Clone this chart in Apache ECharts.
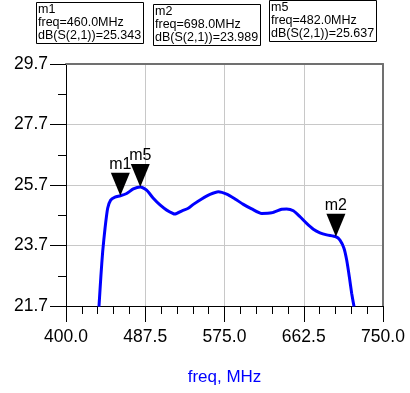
<!DOCTYPE html>
<html>
<head>
<meta charset="utf-8">
<script src="https://cdn.jsdelivr.net/npm/echarts@6/dist/echarts.min.js"></script>
<style>
    html, body {margin: 0; padding: 0; background: #fff;}
    #main {width: 410px; height: 393px;}
</style>
</head>
<body>
<div id="main"></div>
<script>
// freq (MHz) / dB(S(2,1))
let freqs = [436.4, 438.6, 440.5, 443.1, 446, 449.3, 454.1, 460, 467, 474.3, 482, 489, 496.4, 503.8, 511.2, 520.3, 527.7,
    535, 540.6, 549.8, 559, 568.2, 577.4, 586.6, 595.8, 605, 616, 627.1, 638.1, 643.6, 651, 658.4, 665.7, 673.1,
    680.4, 687.8, 698, 702.5, 706.9, 709.9, 712.8, 715.4, 718];
let gains = [21.68, 22.72, 23.5, 24.27, 24.93, 25.2, 25.3, 25.343, 25.42, 25.57, 25.637, 25.53, 25.26, 25.04, 24.87, 24.74, 24.84,
    24.93, 25.06, 25.24, 25.39, 25.48, 25.4, 25.24, 25.06, 24.91, 24.76, 24.78, 24.9, 24.91, 24.85, 24.65, 24.43, 24.24,
    24.12, 24.05, 23.989, 23.88, 23.61, 23.22, 22.67, 22.12, 21.68];

// markers
let markerNames = ['m1', 'm2', 'm5'];
let markerFreqs = [460.0, 698.0, 482.0];
let markerGains = [25.343, 23.989, 25.637];
let boxLeft = [36, 153, 269];
let boxTop = [2, 4, 0];

let fontName = 'Liberation Sans';

(function() {
    let chart = echarts.init(document.getElementById('main'));

    let lineData = freqs.map(function(f, i) { return [f, gains[i]]; });

    let titles = markerNames.map(function(n, i) {
        return {
            text: n + '\nfreq=' + markerFreqs[i].toFixed(1) + 'MHz\ndB(S(2,1))=' + markerGains[i].toFixed(3),
            left: boxLeft[i],
            top: boxTop[i],
            padding: [1, 3, 2, 2],
            borderColor: '#000',
            borderWidth: 1,
            backgroundColor: '#fff',
            textStyle: {fontSize: 12.5, fontWeight: 'normal', color: '#000', lineHeight: 13, fontFamily: fontName}
        };
    });

    let marks = markerNames.map(function(n, i) {
        return {name: n, coord: [markerFreqs[i], markerGains[i]]};
    });

    let option = {
        animation: false,
        title: titles,
        grid: {left: 66, right: 27, top: 64, bottom: 87},
        xAxis: [{
            type: 'value',
            min: 400, max: 750, interval: 87.5,
            name: 'freq, MHz',
            nameLocation: 'middle',
            nameGap: 63,
            nameTextStyle: {color: '#0000ff', fontSize: 17, fontFamily: fontName},
            axisLine: {lineStyle: {color: '#000', width: 1}},
            axisTick: {length: 16, lineStyle: {color: '#000'}},
            minorTick: {show: true, splitNumber: 5, length: 8, lineStyle: {color: '#000'}},
            axisLabel: {margin: 22, fontSize: 17.5, color: '#000', fontFamily: fontName,
                formatter: function(v) { return v.toFixed(1); }},
            splitLine: {show: true, lineStyle: {color: '#c8c8c8', width: 1}}
        }, {
            type: 'value', position: 'top',
            min: 400, max: 750,
            axisLine: {lineStyle: {color: '#707070', width: 2}},
            axisTick: {show: false}, axisLabel: {show: false}, splitLine: {show: false}
        }],
        yAxis: [{
            type: 'value',
            min: 21.7, max: 29.7, interval: 2,
            axisLine: {show: true, lineStyle: {color: '#000', width: 1}},
            axisTick: {show: true, length: 16, lineStyle: {color: '#000'}},
            minorTick: {show: true, splitNumber: 2, length: 8, lineStyle: {color: '#000'}},
            axisLabel: {margin: 18, fontSize: 17.5, color: '#000', fontFamily: fontName,
                formatter: function(v) { return v.toFixed(1); }},
            splitLine: {show: true, lineStyle: {color: '#c8c8c8', width: 1}}
        }, {
            type: 'value', position: 'right',
            min: 21.7, max: 29.7,
            axisLine: {show: true, lineStyle: {color: '#707070', width: 2}},
            axisTick: {show: false}, axisLabel: {show: false}, splitLine: {show: false}
        }],
        series: [{
            name: 'dB(S(2,1))',
            type: 'line',
            data: lineData,
            showSymbol: false,
            smooth: 0.2,
            lineStyle: {color: '#0000ff', width: 3},
            itemStyle: {color: '#0000ff'},
            markPoint: {
                symbol: 'path://M0,0 L20,0 L10,23 Z',
                symbolSize: [19, 23],
                symbolOffset: [0, -11.5],
                itemStyle: {color: '#000'},
                label: {show: true, position: 'top', distance: 0, formatter: '{b}',
                    color: '#000', fontSize: 16, fontFamily: fontName},
                data: marks
            }
        }]
    };
    chart.setOption(option);
})();
</script>
</body>
</html>
